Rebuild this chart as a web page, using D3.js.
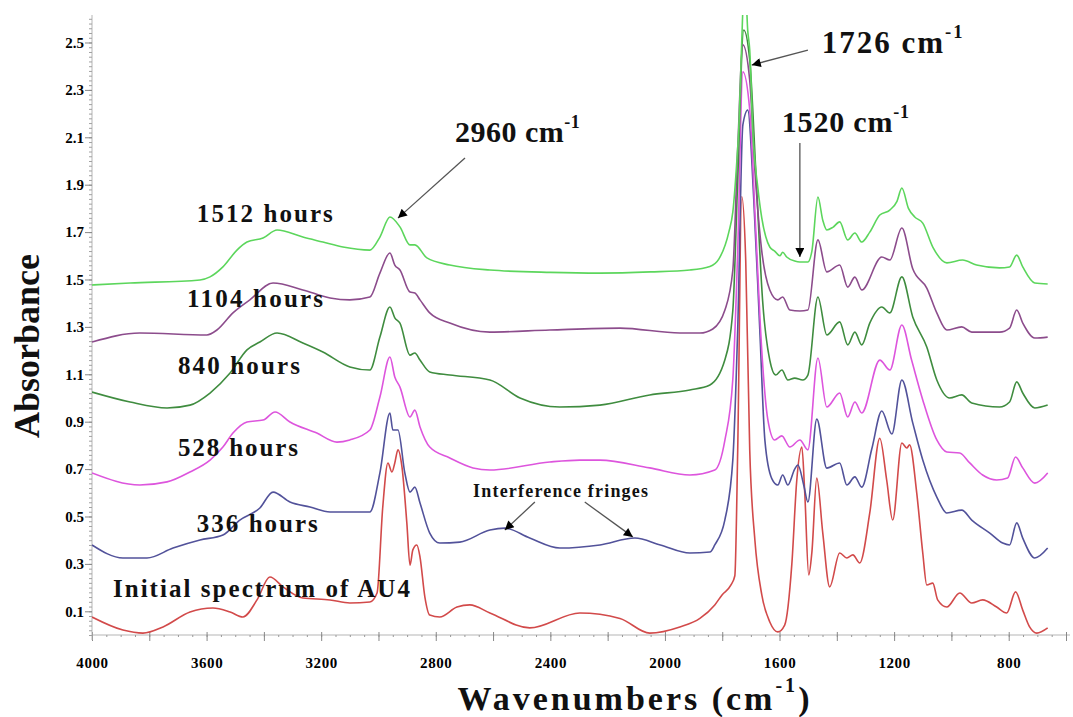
<!DOCTYPE html>
<html>
<head>
<meta charset="utf-8">
<script src="https://cdn.jsdelivr.net/npm/d3@7"></script>
<style>
  body { margin: 0; background: #fff; }
  svg { display: block; font-family: "Liberation Serif", "Times New Roman", serif; font-weight: bold; }
</style>
</head>
<body>
<svg id="chart" width="1073" height="717"></svg>
<script>
// spectra: [wavenumber (cm-1), absorbance]
const spec1512 = [[4000,1.477],[3867,1.485],[3623,1.498],[3588,1.511],[3543,1.553],[3494,1.624],[3459,1.658],[3403,1.675],[3354,1.709],[3264,1.679],[3194,1.658],[3124,1.637],[3030,1.624],[2995,1.679],[2960,1.764],[2925,1.722],[2890,1.646],[2873,1.646],[2831,1.591],[2751,1.561],[2611,1.540],[2400,1.530],[2227,1.527],[2050,1.532],[1913,1.540],[1843,1.555],[1812,1.586],[1777,1.700],[1763,1.785],[1749,2.000],[1742,2.143],[1732,2.500],[1725,2.700],[1718,2.700],[1711,2.550],[1704,2.468],[1693,2.118],[1676,1.890],[1662,1.760],[1648,1.680],[1634,1.637],[1617,1.620],[1599,1.600],[1589,1.615],[1575,1.595],[1547,1.578],[1529,1.574],[1501,1.574],[1487,1.620],[1466,1.848],[1449,1.750],[1435,1.709],[1414,1.720],[1390,1.743],[1362,1.667],[1337,1.696],[1313,1.658],[1285,1.700],[1250,1.772],[1215,1.793],[1190,1.830],[1173,1.886],[1150,1.800],[1128,1.764],[1100,1.738],[1065,1.637],[1016,1.570],[961,1.582],[912,1.561],[832,1.549],[797,1.553],[772,1.603],[751,1.553],[709,1.485],[664,1.481]];

const spec1104 = [[4000,1.236],[3833,1.274],[3599,1.266],[3564,1.287],[3508,1.359],[3449,1.414],[3368,1.485],[3264,1.456],[3169,1.422],[3100,1.414],[3030,1.426],[2995,1.527],[2960,1.612],[2943,1.561],[2925,1.540],[2890,1.447],[2873,1.443],[2855,1.414],[2821,1.359],[2751,1.316],[2611,1.278],[2402,1.287],[2157,1.295],[1948,1.274],[1878,1.274],[1833,1.291],[1791,1.370],[1763,1.540],[1746,2.050],[1728,2.490],[1704,2.340],[1686,1.960],[1662,1.620],[1634,1.456],[1606,1.414],[1589,1.426],[1564,1.371],[1529,1.367],[1501,1.371],[1466,1.667],[1435,1.532],[1390,1.561],[1362,1.468],[1337,1.510],[1313,1.456],[1243,1.595],[1215,1.582],[1173,1.717],[1135,1.545],[1086,1.464],[1051,1.359],[1016,1.287],[964,1.300],[929,1.278],[832,1.278],[797,1.295],[772,1.371],[751,1.316],[709,1.253],[664,1.257]];

const spec840 = [[4000,1.025],[3867,0.983],[3738,0.958],[3658,0.970],[3588,1.021],[3518,1.105],[3459,1.203],[3414,1.236],[3354,1.274],[3264,1.232],[3194,1.194],[3100,1.131],[3030,1.118],[2995,1.257],[2960,1.384],[2943,1.338],[2925,1.316],[2890,1.181],[2873,1.190],[2855,1.160],[2821,1.110],[2751,1.097],[2611,1.076],[2506,1.000],[2367,0.962],[2227,0.970],[2053,1.013],[1913,1.034],[1843,1.055],[1791,1.160],[1763,1.370],[1746,1.920],[1725,2.553],[1704,2.426],[1683,1.962],[1659,1.410],[1634,1.160],[1613,1.097],[1592,1.118],[1571,1.076],[1547,1.084],[1519,1.076],[1501,1.097],[1466,1.426],[1435,1.266],[1390,1.321],[1362,1.224],[1337,1.278],[1313,1.224],[1285,1.316],[1243,1.384],[1215,1.359],[1173,1.511],[1135,1.342],[1086,1.215],[1051,1.076],[1006,1.000],[964,1.013],[929,0.979],[832,0.962],[797,0.983],[772,1.068],[751,1.021],[709,0.958],[664,0.970]];

const spec528 = [[4000,0.684],[3833,0.633],[3738,0.646],[3658,0.688],[3588,0.738],[3543,0.793],[3508,0.852],[3459,0.899],[3403,0.907],[3361,0.941],[3309,0.899],[3215,0.852],[3145,0.814],[3100,0.823],[3030,0.865],[2995,1.004],[2960,1.173],[2943,1.089],[2925,1.046],[2890,0.920],[2873,0.949],[2855,0.878],[2821,0.793],[2751,0.747],[2670,0.705],[2611,0.696],[2402,0.730],[2297,0.738],[2227,0.738],[2053,0.705],[1913,0.675],[1826,0.696],[1791,0.820],[1763,1.080],[1746,1.620],[1728,2.376],[1704,2.215],[1683,1.710],[1662,1.200],[1641,0.910],[1617,0.823],[1592,0.840],[1564,0.793],[1529,0.823],[1501,0.781],[1466,1.169],[1435,0.962],[1390,1.021],[1362,0.920],[1337,0.983],[1313,0.937],[1250,1.160],[1215,1.118],[1173,1.308],[1139,1.160],[1100,0.992],[1051,0.823],[1016,0.772],[971,0.768],[936,0.726],[891,0.675],[842,0.654],[804,0.662],[776,0.751],[751,0.705],[709,0.641],[664,0.684]];

const spec336 = [[4000,0.380],[3892,0.325],[3808,0.325],[3717,0.367],[3623,0.401],[3543,0.422],[3484,0.485],[3414,0.536],[3368,0.603],[3309,0.561],[3239,0.540],[3169,0.519],[3100,0.519],[3030,0.519],[2995,0.684],[2960,0.937],[2950,0.865],[2932,0.865],[2908,0.684],[2890,0.603],[2873,0.624],[2855,0.557],[2821,0.430],[2786,0.388],[2716,0.392],[2611,0.443],[2559,0.451],[2472,0.409],[2367,0.367],[2227,0.380],[2105,0.409],[2016,0.380],[1913,0.346],[1843,0.350],[1826,0.380],[1791,0.485],[1763,0.740],[1746,1.290],[1728,2.152],[1711,2.215],[1690,1.840],[1669,1.290],[1651,0.820],[1627,0.660],[1606,0.633],[1589,0.675],[1571,0.633],[1547,0.700],[1536,0.717],[1515,0.630],[1501,0.561],[1470,0.911],[1435,0.704],[1390,0.726],[1365,0.633],[1337,0.667],[1313,0.624],[1278,0.785],[1243,0.945],[1208,0.848],[1173,1.076],[1135,0.895],[1100,0.738],[1051,0.582],[1016,0.515],[964,0.527],[929,0.485],[866,0.430],[821,0.388],[797,0.380],[772,0.473],[751,0.409],[709,0.325],[664,0.367]];

const specInitial = [[4000,0.076],[3892,0.021],[3822,0.008],[3752,0.034],[3658,0.097],[3578,0.114],[3518,0.097],[3473,0.076],[3424,0.148],[3379,0.245],[3333,0.203],[3264,0.156],[3169,0.148],[3100,0.135],[3030,0.139],[3005,0.177],[2985,0.540],[2967,0.726],[2953,0.688],[2943,0.726],[2932,0.781],[2918,0.709],[2901,0.473],[2890,0.295],[2880,0.359],[2866,0.380],[2855,0.329],[2838,0.160],[2821,0.084],[2786,0.076],[2726,0.118],[2681,0.127],[2611,0.093],[2472,0.030],[2297,0.093],[2157,0.070],[2053,0.008],[1948,0.034],[1878,0.070],[1826,0.127],[1800,0.170],[1770,0.210],[1756,0.250],[1746,0.780],[1732,1.850],[1718,1.580],[1704,0.780],[1686,0.400],[1662,0.170],[1634,0.055],[1606,0.013],[1582,0.042],[1557,0.300],[1540,0.650],[1522,0.793],[1512,0.600],[1498,0.253],[1487,0.350],[1470,0.662],[1449,0.430],[1425,0.203],[1390,0.346],[1365,0.325],[1344,0.338],[1320,0.304],[1285,0.515],[1250,0.830],[1226,0.654],[1205,0.485],[1173,0.810],[1156,0.789],[1146,0.802],[1121,0.599],[1100,0.346],[1086,0.211],[1065,0.219],[1048,0.148],[1016,0.118],[971,0.177],[929,0.135],[891,0.148],[842,0.118],[807,0.093],[776,0.182],[751,0.105],[727,0.034],[702,0.008],[664,0.030]];

const seriesNames = ['Initial spectrum of AU4', '336 hours', '528 hours', '840 hours', '1104 hours', '1512 hours'];
const seriesData = [specInitial, spec336, spec528, spec840, spec1104, spec1512];
const seriesColors = ['#d24a4a', '#52529a', '#dd55dd', '#3f8c3f', '#8c4c8c', '#5cd65c'];

const xTickLabels = [4000, 3600, 3200, 2800, 2400, 2000, 1600, 1200, 800];
const yTickLabels = [0.1, 0.3, 0.5, 0.7, 0.9, 1.1, 1.3, 1.5, 1.7, 1.9, 2.1, 2.3, 2.5];

const svg = d3.select('#chart');
const x = d3.scaleLinear().domain([4000, 600]).range([92, 1066]);
const y = d3.scaleLinear().domain([0, 2.616]).range([635, 15]);

svg.append('rect').attr('width', 1073).attr('height', 717).attr('fill', '#fff');

svg.append('defs').append('clipPath').attr('id', 'plot')
  .append('rect').attr('x', 92).attr('y', 15).attr('width', 980).attr('height', 630);

const defs = svg.select('defs');
defs.append('marker')
  .attr('id', 'head')
  .attr('viewBox', '0 0 10 10')
  .attr('refX', 10).attr('refY', 5)
  .attr('markerWidth', 11).attr('markerHeight', 9)
  .attr('markerUnits', 'userSpaceOnUse')
  .attr('orient', 'auto')
  .append('path').attr('d', 'M0,0L10,5L0,10Z').attr('fill', '#000');

// x axis: minor ticks, major ticks, labels
const xAxisG = svg.append('g').attr('transform', 'translate(0,635)');
xAxisG.append('line').attr('x1', 92).attr('x2', 1070).attr('stroke', '#b5b5b5');
xAxisG.append('g')
  .call(d3.axisBottom(x).tickValues(d3.range(4000, 599, -50)).tickSize(2).tickFormat(''))
  .call(g => g.select('.domain').remove())
  .call(g => g.selectAll('line').attr('stroke', '#999'));
xAxisG.append('g')
  .call(d3.axisBottom(x).tickValues(d3.range(4000, 599, -200)).tickSize(6).tickFormat(''))
  .call(g => g.select('.domain').remove())
  .call(g => g.selectAll('line').attr('y1', -3).attr('stroke', '#888'));
xAxisG.append('g')
  .call(d3.axisBottom(x).tickValues(xTickLabels).tickSize(0).tickPadding(22).tickFormat(d3.format('d')))
  .call(g => g.select('.domain').remove())
  .call(g => g.selectAll('text')
    .attr('fill', '#000')
    .attr('font-family', '"Liberation Serif", serif')
    .attr('font-weight', 'bold')
    .attr('font-size', 15)
    .attr('letter-spacing', 0.6));

// y axis
const yAxisG = svg.append('g').attr('transform', 'translate(92,0)');
yAxisG.append('line').attr('y1', 15).attr('y2', 640).attr('stroke', '#b5b5b5');
yAxisG.append('g')
  .call(d3.axisLeft(y).tickValues(d3.range(0, 2.62, 0.02)).tickSize(3).tickFormat(''))
  .call(g => g.select('.domain').remove())
  .call(g => g.selectAll('line').attr('stroke', '#a0a0a0'));
yAxisG.append('g')
  .call(d3.axisLeft(y).tickValues(yTickLabels).tickSize(7).tickPadding(1).tickFormat(d3.format('.1f')))
  .call(g => g.select('.domain').remove())
  .call(g => g.selectAll('line').attr('stroke', '#888'))
  .call(g => g.selectAll('text')
    .attr('fill', '#000')
    .attr('font-family', '"Liberation Serif", serif')
    .attr('font-weight', 'bold')
    .attr('font-size', 15));

// spectra
const line = d3.line().x(d => x(d[0])).y(d => y(d[1])).curve(d3.curveMonotoneX);
svg.append('g').attr('clip-path', 'url(#plot)')
  .selectAll('path')
  .data(seriesData)
  .join('path')
  .attr('d', d => line(d.slice().reverse()))
  .attr('fill', 'none')
  .attr('stroke', (d, i) => seriesColors[i])
  .attr('stroke-width', 1.6)
  .attr('stroke-linejoin', 'round');

// curve labels
const labelPos = [[3927, 0.160, 297], [3634, 0.435, 121], [3700, 0.755, 120], [3700, 1.101, 122], [3668, 1.384, 136], [3634, 1.743, 136]];
svg.append('g')
  .selectAll('text')
  .data(seriesNames)
  .join('text')
  .attr('x', (d, i) => x(labelPos[i][0]))
  .attr('y', (d, i) => y(labelPos[i][1]))
  .attr('textLength', (d, i) => labelPos[i][2])
  .attr('lengthAdjust', 'spacing')
  .attr('font-size', 25)
  .attr('fill', '#111')
  .text(d => d);

// peak annotations
function peakLabel(num, wx, wy, size, spacing) {
  const t = svg.append('text')
    .attr('x', x(wx)).attr('y', y(wy))
    .attr('font-size', size)
    .attr('letter-spacing', spacing)
    .attr('fill', '#111');
  t.append('tspan').text(num + ' cm');
  t.append('tspan').attr('font-size', size * 0.6).attr('baseline-shift', '80%').text('-1');
}
peakLabel('2960', 2733, 2.080, 30, 0.5);
peakLabel('1726', 1453, 2.456, 31, 2);
peakLabel('1520', 1592, 2.122, 30, 0.8);

svg.append('text')
  .attr('x', x(2670)).attr('y', y(0.582))
  .attr('textLength', 175).attr('lengthAdjust', 'spacing')
  .attr('font-size', 18)
  .attr('fill', '#111')
  .text('Interference fringes');

const arrows = [
  [[2698, 2.013], [2932, 1.759]],
  [[1501, 2.468], [1697, 2.405]],
  [[1529, 2.076], [1529, 1.595]],
  [[2454, 0.561], [2559, 0.443]],
  [[2280, 0.561], [2112, 0.414]]
];
svg.append('g')
  .selectAll('line')
  .data(arrows)
  .join('line')
  .attr('x1', d => x(d[0][0])).attr('y1', d => y(d[0][1]))
  .attr('x2', d => x(d[1][0])).attr('y2', d => y(d[1][1]))
  .attr('stroke', '#555')
  .attr('stroke-width', 1.3)
  .attr('marker-end', 'url(#head)');

// axis titles
svg.append('text')
  .attr('transform', 'translate(39,346) rotate(-90)')
  .attr('text-anchor', 'middle')
  .attr('font-size', 36)
  .attr('fill', '#111')
  .text('Absorbance');

const xt = svg.append('text')
  .attr('x', 635).attr('y', 710)
  .attr('text-anchor', 'middle')
  .attr('font-size', 34)
  .attr('letter-spacing', 3)
  .attr('fill', '#111');
xt.append('tspan').text('Wavenumbers (cm');
xt.append('tspan').attr('font-size', 20).attr('baseline-shift', '90%').text('-1');
xt.append('tspan').text(')');
</script>
</body>
</html>
